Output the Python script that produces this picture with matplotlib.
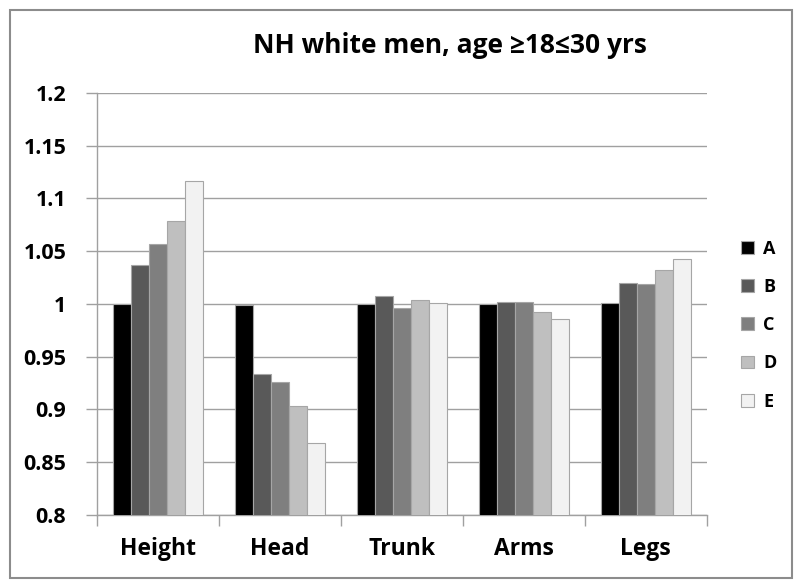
import numpy as np
import matplotlib
matplotlib.use("Agg")
import matplotlib.pyplot as plt
from matplotlib.patches import Rectangle

plt.rcParams['font.family'] = ['Open Sans', 'DejaVu Sans']
plt.rcParams['font.weight'] = 'bold'

# data
categories = ["Height", "Head", "Trunk", "Arms", "Legs"]
series = ["A", "B", "C", "D", "E"]
vals_A = [1.000, 0.999, 1.000, 1.000, 1.001]
vals_B = [1.037, 0.934, 1.008, 1.002, 1.020]
vals_C = [1.057, 0.926, 0.996, 1.002, 1.019]
vals_D = [1.079, 0.903, 1.004, 0.992, 1.032]
vals_E = [1.117, 0.868, 1.001, 0.986, 1.043]
colors = ["#000000", "#595959", "#7f7f7f", "#bfbfbf", "#f2f2f2"]
yticks = [0.8, 0.85, 0.9, 0.95, 1.0, 1.05, 1.1, 1.15, 1.2]
ytick_labels = ["0.8", "0.85", "0.9", "0.95", "1", "1.05", "1.1", "1.15", "1.2"]

fig = plt.figure(figsize=(8, 5.87), dpi=100)
ax = fig.add_axes([0.121, 0.1227, 0.7625, 0.7189])

x = np.arange(len(categories))
w = 0.148
all_vals = [vals_A, vals_B, vals_C, vals_D, vals_E]
for i, (name, v, c) in enumerate(zip(series, all_vals, colors)):
    ax.bar(x + (i - 2) * w, v, width=w, color=c, edgecolor="#a6a6a6",
           linewidth=0.8, label=name, zorder=3)

ax.set_xlim(-0.5, len(categories) - 0.5)
ax.set_ylim(0.8, 1.2)
ax.set_yticks(yticks)
ax.set_yticklabels(ytick_labels)
ax.yaxis.grid(True, color="#a0a0a0", linewidth=1, zorder=0)

# x ticks at group boundaries, labels centered
ax.set_xticks(np.arange(-0.5, len(categories)), minor=False)
ax.set_xticklabels([])
ax.set_xticks(x, minor=True)
ax.set_xticklabels(categories, minor=True)
ax.tick_params(axis="x", which="major", length=8, color="#a0a0a0", width=1)
ax.tick_params(axis="x", which="minor", length=0, pad=16, labelsize=16.5)
ax.tick_params(axis="y", length=8, color="#a0a0a0", width=1, pad=14, labelsize=15.5)

for s in ["top", "right"]:
    ax.spines[s].set_visible(False)
for s in ["left", "bottom"]:
    ax.spines[s].set_color("#a0a0a0")
    ax.spines[s].set_linewidth(1)

leg = ax.legend(loc="center left", bbox_to_anchor=(1.03, 0.45), frameon=False,
                fontsize=13, handlelength=0.7, handleheight=0.7,
                handletextpad=0.5, labelspacing=1.12)

fig.text(0.5625, 0.923, "NH white men, age \u226518\u226430 yrs",
         ha="center", va="center", fontsize=19, fontweight="bold")

# outer frame
fig.patches.append(Rectangle((0.0125, 0.015), 0.9775, 0.968, transform=fig.transFigure,
                             fill=False, edgecolor="#8c8c8c", linewidth=1.5))

fig.savefig("out.png", dpi=100)
